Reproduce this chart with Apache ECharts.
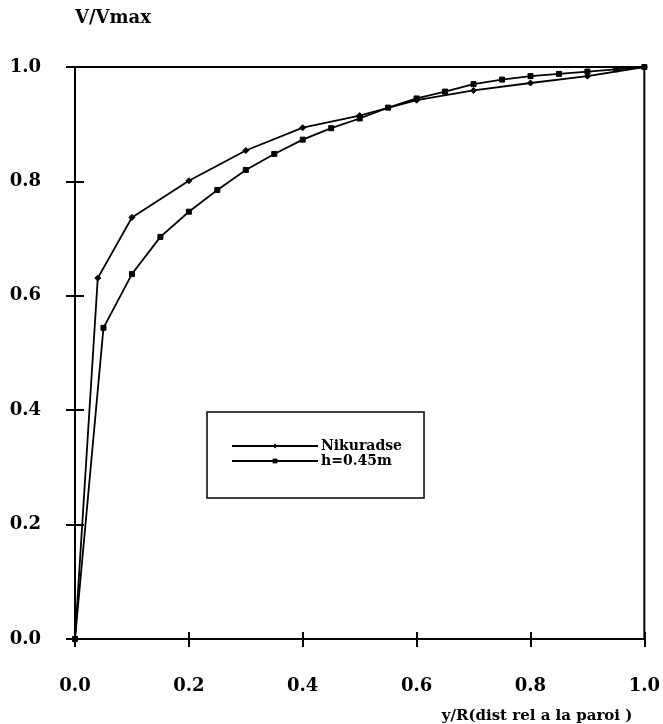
<!DOCTYPE html>
<html>
<head>
<meta charset="utf-8">
<script src="https://cdn.jsdelivr.net/npm/echarts@6/dist/echarts.min.js"></script>
<style>
html,body{margin:0;padding:0;background:#fff;}
#chart{width:663px;height:724px;}
</style>
</head>
<body>
<div id="chart"></div>
<script>
// Data
const nikuradseX = [0, 0.04, 0.1, 0.2, 0.3, 0.4, 0.5, 0.6, 0.7, 0.8, 0.9, 1.0];
const nikuradseY = [0, 0.631, 0.737, 0.801, 0.854, 0.894, 0.915, 0.942, 0.959, 0.972, 0.984, 1.0];
const hX = [0, 0.05, 0.1, 0.15, 0.2, 0.25, 0.3, 0.35, 0.4, 0.45, 0.5, 0.55, 0.6, 0.65, 0.7, 0.75, 0.8, 0.85, 0.9, 0.95, 1.0];
const hY = [0, 0.544, 0.638, 0.703, 0.747, 0.785, 0.820, 0.848, 0.873, 0.893, 0.910, 0.929, 0.945, 0.957, 0.970, 0.978, 0.984, 0.988, 0.992, 0.996, 1.0];
const seriesNames = ['Nikuradse', 'h=0.45m'];
const xTitle = 'y/R(dist rel a la paroi )';
const yTitle = 'V/Vmax';

const FONT = 'DejaVu Serif';
const pair = (xs, ys) => xs.map((x, i) => [x, ys[i]]);

const chart = echarts.init(document.getElementById('chart'), null, {renderer: 'canvas'});
const baseAxis = {
  type: 'value', min: 0, max: 1, interval: 0.2,
  splitLine: {show: false}
};
chart.setOption({
  backgroundColor: '#fff',
  animation: false,
  grid: {left: 75, right: 18, top: 67, bottom: 84, show: true, borderColor: '#000', borderWidth: 2, backgroundColor: 'transparent'},
  legend: {
    orient: 'vertical', left: 207, top: 412,
    data: seriesNames,
    itemWidth: 86, itemHeight: 6, itemGap: 1,
    borderColor: '#000', borderWidth: 1.5,
    padding: [27, 22, 30, 24],
    textStyle: {fontFamily: FONT, fontWeight: 'bold', fontSize: 14, color: '#000', padding: [0,0,0,-2]}
  },
  xAxis: [
    Object.assign({}, baseAxis, {
      position: 'bottom',
      name: xTitle, nameLocation: 'end', nameGap: -12,
      nameTextStyle: {fontFamily: FONT, fontWeight: 'bold', fontSize: 15, color: '#000', align: 'right', verticalAlign: 'top', padding: [70, 0, 0, 0]},
      axisLine: {lineStyle: {color: '#000', width: 2}},
      axisTick: {inside: false, length: 8, lineStyle: {color: '#000', width: 2}},
      axisLabel: {margin: 38, fontFamily: FONT, fontWeight: 'bold', fontSize: 18, color: '#000', formatter: v => v.toFixed(1)}
    }),
    Object.assign({}, baseAxis, {
      position: 'bottom',
      axisLine: {show: false},
      axisTick: {inside: true, length: 7, lineStyle: {color: '#000', width: 2}},
      axisLabel: {show: false}
    })
  ],
  yAxis: [
    Object.assign({}, baseAxis, {
      position: 'left',
      name: yTitle, nameLocation: 'end', nameGap: 40,
      nameTextStyle: {fontFamily: FONT, fontWeight: 'bold', fontSize: 18, color: '#000', align: 'left', padding: [0, 0, 0, 0]},
      axisLine: {lineStyle: {color: '#000', width: 2}},
      axisTick: {inside: false, length: 9, lineStyle: {color: '#000', width: 2}},
      axisLabel: {margin: 34, fontFamily: FONT, fontWeight: 'bold', fontSize: 18, color: '#000', formatter: v => v.toFixed(1)}
    }),
    Object.assign({}, baseAxis, {
      position: 'left',
      axisLine: {show: false},
      axisTick: {inside: true, length: 9, lineStyle: {color: '#000', width: 2}},
      axisLabel: {show: false}
    })
  ],
  series: [
    {
      name: seriesNames[0], type: 'line', xAxisIndex: 0, yAxisIndex: 0,
      data: pair(nikuradseX, nikuradseY),
      symbol: 'diamond', symbolSize: 6, showAllSymbol: true,
      lineStyle: {color: '#000', width: 1.8},
      itemStyle: {color: '#000', borderColor: '#000'}
    },
    {
      name: seriesNames[1], type: 'line', xAxisIndex: 0, yAxisIndex: 0,
      data: pair(hX, hY),
      symbol: 'rect', symbolSize: 5, showAllSymbol: true,
      lineStyle: {color: '#000', width: 1.8},
      itemStyle: {color: '#000', borderColor: '#000'}
    }
  ]
});
</script>
</body>
</html>
